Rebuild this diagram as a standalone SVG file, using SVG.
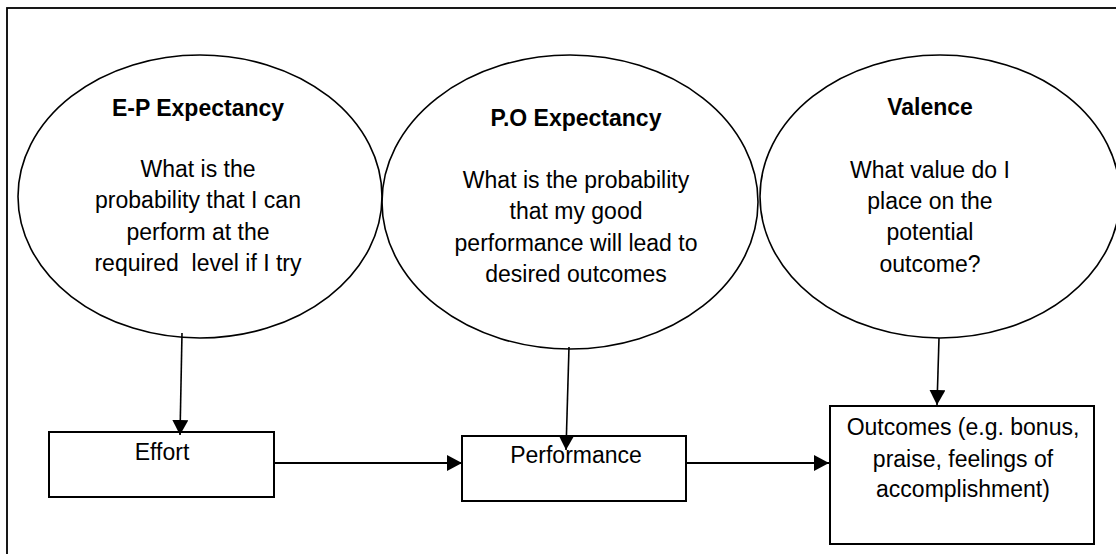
<svg xmlns="http://www.w3.org/2000/svg" width="1116" height="554" viewBox="0 0 1116 554">
<style>
.t{font-family:"Liberation Sans",Arial,sans-serif;font-size:23px;fill:#000;text-anchor:middle}
.b{font-weight:bold}
.el{fill:none;stroke:#000;stroke-width:1.6}
.bx{fill:#fff;stroke:#000;stroke-width:2}
.ln{fill:none;stroke:#000;stroke-width:1.6}
.lh{fill:none;stroke:#000;stroke-width:2.2}
</style>
<defs>
<marker id="ah" markerUnits="userSpaceOnUse" markerWidth="16" markerHeight="16" viewBox="0 0 16 16" refX="15" refY="8" orient="auto">
<path d="M0,0 L15,8 L0,16 Z" fill="#000"/>
</marker>
</defs>
<rect x="0" y="0" width="1116" height="554" fill="#fff"/>
<rect id="frame" x="7" y="8" width="1130" height="570" fill="none" stroke="#000" stroke-width="1.8"/>
<g id="ep">
<ellipse class="el" cx="200" cy="196.5" rx="182" ry="141.5"/>
<text class="t b" x="198" y="116">E-P Expectancy</text>
<text class="t" x="198" y="177">What is the</text>
<text class="t" x="198" y="208">probability that I can</text>
<text class="t" x="198" y="240">perform at the</text>
<text class="t" x="198" y="271" xml:space="preserve">required  level if I try</text>
</g>
<g id="po">
<ellipse class="el" cx="570" cy="202" rx="188" ry="147"/>
<text class="t b" x="576" y="126">P.O Expectancy</text>
<text class="t" x="576" y="188">What is the probability</text>
<text class="t" x="576" y="219">that my good</text>
<text class="t" x="576" y="251">performance will lead to</text>
<text class="t" x="576" y="282">desired outcomes</text>
</g>
<g id="valence">
<ellipse class="el" cx="940" cy="196.5" rx="180" ry="141.5"/>
<text class="t b" x="930" y="115">Valence</text>
<text class="t" x="930" y="178">What value do I</text>
<text class="t" x="930" y="209">place on the</text>
<text class="t" x="930" y="240">potential</text>
<text class="t" x="930" y="272">outcome?</text>
</g>
<g id="effort">
<rect class="bx" x="49" y="432" width="225" height="65"/>
<text class="t" x="162" y="460">Effort</text>
</g>
<g id="performance">
<rect class="bx" x="462" y="436" width="224" height="65"/>
<text class="t" x="576" y="463">Performance</text>
</g>
<g id="outcomes">
<rect class="bx" x="830" y="406" width="264" height="138"/>
<text class="t" x="963" y="435">Outcomes (e.g. bonus,</text>
<text class="t" x="963" y="467">praise, feelings of</text>
<text class="t" x="963" y="497">accomplishment)</text>
</g>
<g id="connectors">
<line class="ln" x1="182" y1="333" x2="180" y2="435" marker-end="url(#ah)"/>
<line class="ln" x1="569" y1="347" x2="566" y2="450" marker-end="url(#ah)"/>
<line class="ln" x1="939" y1="338" x2="937" y2="405" marker-end="url(#ah)"/>
<line class="lh" x1="274" y1="463" x2="462" y2="463" marker-end="url(#ah)"/>
<line class="lh" x1="686" y1="463" x2="829" y2="463" marker-end="url(#ah)"/>
</g>
</svg>
